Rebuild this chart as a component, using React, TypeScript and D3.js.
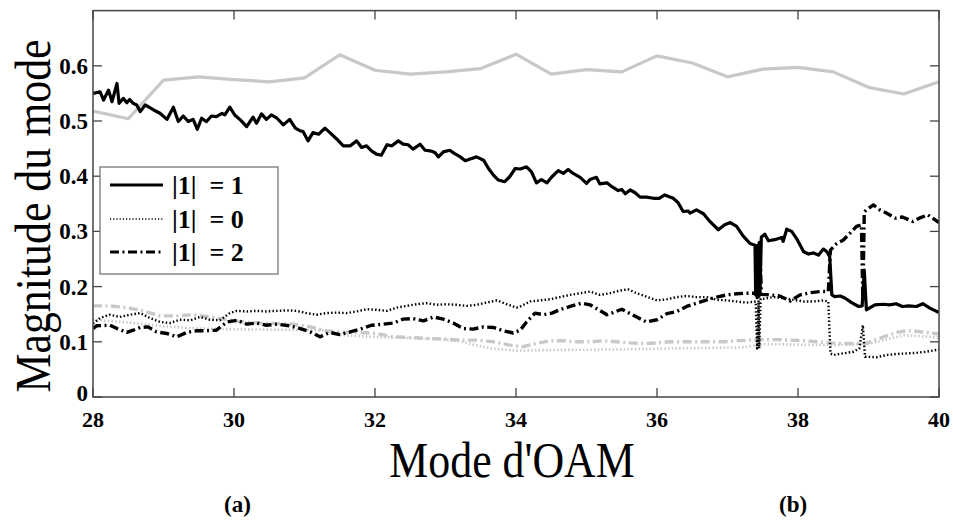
import React from "react";
import * as d3 from "d3";

type P = [number, number];

const xTicks = [28, 30, 32, 34, 36, 38, 40];
const yTicks = [0, 0.1, 0.2, 0.3, 0.4, 0.5, 0.6];
const legendLabels = ["|1|  = 1", "|1|  = 0", "|1|  = 2"];
const panelLabels = ["(a)", "(b)"];
const panelPos = [30.05, 37.93];

const graySolid: P[] = [
  [28, 0.518], [28.5, 0.504], [29, 0.574], [29.5, 0.58], [30, 0.575], [30.5, 0.571], [31, 0.578],
  [31.5, 0.62], [32, 0.592], [32.5, 0.585], [33, 0.589], [33.5, 0.595], [34, 0.621], [34.5, 0.585],
  [35, 0.593], [35.5, 0.589], [36, 0.618], [36.5, 0.605], [37, 0.58], [37.5, 0.594], [38, 0.597],
  [38.5, 0.589], [39, 0.561], [39.5, 0.549], [40, 0.571],
];

const grayDashDot: P[] = [
  [28.0, 0.165], [28.24, 0.165], [28.48, 0.162], [28.71, 0.156], [28.95, 0.147], [29.19, 0.147],
  [29.42, 0.149], [29.66, 0.145], [29.9, 0.14], [30.13, 0.136], [30.37, 0.134], [30.61, 0.133],
  [30.84, 0.132], [31.08, 0.127], [31.31, 0.12], [31.55, 0.117], [31.79, 0.117], [32.02, 0.115],
  [32.26, 0.109], [32.5, 0.108], [32.73, 0.106], [32.97, 0.105], [33.21, 0.103], [33.44, 0.103],
  [33.68, 0.1], [33.91, 0.094], [34.1, 0.091], [34.29, 0.097], [34.48, 0.102], [34.67, 0.102],
  [34.86, 0.1], [35.05, 0.1], [35.24, 0.102], [35.43, 0.1], [35.62, 0.098], [35.81, 0.097],
  [36.0, 0.098], [36.19, 0.1], [36.57, 0.1], [36.95, 0.1], [37.13, 0.102], [37.32, 0.103],
  [37.51, 0.104], [37.7, 0.104], [37.89, 0.103], [38.08, 0.102], [38.27, 0.1], [38.45, 0.098],
  [38.64, 0.097], [38.97, 0.097], [39.11, 0.104], [39.26, 0.111], [39.4, 0.117], [39.54, 0.12],
  [39.68, 0.119], [39.82, 0.117], [40.0, 0.114],
];

const grayDotted: P[] = [
  [28.0, 0.14], [28.5, 0.135], [29.0, 0.128], [29.5, 0.124], [29.87, 0.123], [30.5, 0.122],
  [31.27, 0.121], [31.55, 0.112], [31.97, 0.109], [32.69, 0.106], [33.16, 0.102], [33.63, 0.088],
  [34.01, 0.084], [34.38, 0.085], [35.33, 0.086], [36.28, 0.088], [37.23, 0.09], [37.51, 0.096],
  [37.94, 0.095], [38.5, 0.094], [39.0, 0.096], [39.5, 0.112], [40.0, 0.108],
];

const l1: P[] = [
  [28.0, 0.55], [28.1, 0.553], [28.15, 0.538], [28.22, 0.556], [28.27, 0.535], [28.34, 0.568],
  [28.37, 0.532], [28.43, 0.541], [28.48, 0.533], [28.52, 0.539], [28.57, 0.532], [28.62, 0.529],
  [28.67, 0.517], [28.74, 0.529], [28.86, 0.52], [28.95, 0.514], [29.05, 0.503], [29.14, 0.525],
  [29.21, 0.499], [29.28, 0.509], [29.35, 0.499], [29.42, 0.503], [29.48, 0.485], [29.54, 0.505],
  [29.61, 0.499], [29.68, 0.509], [29.75, 0.508], [29.83, 0.514], [29.87, 0.511], [29.94, 0.525],
  [30.01, 0.511], [30.09, 0.502], [30.18, 0.49], [30.27, 0.507], [30.32, 0.496], [30.39, 0.513],
  [30.46, 0.503], [30.53, 0.511], [30.61, 0.505], [30.7, 0.493], [30.79, 0.503], [30.87, 0.487],
  [30.94, 0.482], [30.98, 0.481], [31.05, 0.464], [31.12, 0.479], [31.2, 0.476], [31.29, 0.487],
  [31.36, 0.479], [31.46, 0.467], [31.55, 0.455], [31.65, 0.455], [31.74, 0.464], [31.81, 0.452],
  [31.88, 0.455], [31.95, 0.446], [32.02, 0.44], [32.09, 0.438], [32.17, 0.457], [32.24, 0.455],
  [32.33, 0.464], [32.4, 0.458], [32.47, 0.457], [32.54, 0.449], [32.64, 0.458], [32.71, 0.447],
  [32.78, 0.446], [32.85, 0.443], [32.9, 0.435], [32.97, 0.444], [33.06, 0.447], [33.13, 0.441],
  [33.21, 0.435], [33.28, 0.428], [33.35, 0.431], [33.44, 0.435], [33.54, 0.429], [33.61, 0.414],
  [33.68, 0.402], [33.75, 0.393], [33.84, 0.39], [33.91, 0.399], [33.99, 0.414], [34.06, 0.413],
  [34.15, 0.417], [34.22, 0.408], [34.29, 0.388], [34.36, 0.394], [34.44, 0.388], [34.51, 0.399],
  [34.6, 0.41], [34.67, 0.405], [34.74, 0.412], [34.81, 0.405], [34.91, 0.398], [35.0, 0.387],
  [35.05, 0.394], [35.14, 0.398], [35.19, 0.386], [35.29, 0.388], [35.36, 0.381], [35.45, 0.374],
  [35.5, 0.376], [35.55, 0.368], [35.62, 0.375], [35.69, 0.37], [35.76, 0.362], [35.85, 0.362],
  [35.95, 0.36], [36.03, 0.36], [36.11, 0.366], [36.23, 0.36], [36.3, 0.352], [36.37, 0.336],
  [36.44, 0.337], [36.47, 0.333], [36.56, 0.339], [36.66, 0.332], [36.75, 0.318], [36.87, 0.303],
  [36.96, 0.312], [37.04, 0.316], [37.13, 0.309], [37.22, 0.292], [37.32, 0.278], [37.39, 0.275],
  [37.4, 0.185], [37.41, 0.272], [37.42, 0.18], [37.43, 0.275], [37.44, 0.182], [37.45, 0.28],
  [37.46, 0.185], [37.48, 0.29],
  [37.53, 0.295], [37.58, 0.283], [37.67, 0.285], [37.77, 0.289], [37.79, 0.282], [37.84, 0.304],
  [37.91, 0.3], [37.98, 0.287], [38.08, 0.263], [38.15, 0.259], [38.22, 0.261], [38.29, 0.257],
  [38.36, 0.268], [38.41, 0.263], [38.45, 0.254], [38.48, 0.185], [38.52, 0.182], [38.6, 0.183],
  [38.67, 0.179], [38.76, 0.171], [38.86, 0.164], [38.91, 0.165], [38.94, 0.23], [38.97, 0.158],
  [39.09, 0.167], [39.21, 0.168], [39.3, 0.167], [39.39, 0.169], [39.48, 0.164], [39.57, 0.165],
  [39.68, 0.164], [39.77, 0.169], [39.87, 0.161], [40.0, 0.153],
];

const l0: P[] = [
  [28.0, 0.133], [28.1, 0.143], [28.24, 0.149], [28.38, 0.145], [28.52, 0.149], [28.67, 0.152],
  [28.81, 0.143], [28.95, 0.136], [29.09, 0.134], [29.23, 0.14], [29.38, 0.139], [29.52, 0.145],
  [29.66, 0.14], [29.8, 0.139], [29.94, 0.152], [30.04, 0.156], [30.18, 0.155], [30.32, 0.156],
  [30.46, 0.155], [30.61, 0.156], [30.75, 0.157], [30.89, 0.156], [31.03, 0.152], [31.17, 0.149],
  [31.31, 0.152], [31.46, 0.153], [31.6, 0.152], [31.74, 0.155], [31.88, 0.159], [32.02, 0.158],
  [32.17, 0.156], [32.31, 0.162], [32.45, 0.165], [32.59, 0.168], [32.73, 0.17], [32.87, 0.167],
  [33.02, 0.168], [33.16, 0.167], [33.3, 0.165], [33.44, 0.167], [33.58, 0.171], [33.73, 0.175],
  [33.87, 0.168], [34.01, 0.162], [34.06, 0.164], [34.2, 0.173], [34.34, 0.175], [34.48, 0.177],
  [34.62, 0.181], [34.77, 0.185], [34.91, 0.188], [35.05, 0.191], [35.19, 0.185], [35.33, 0.188],
  [35.48, 0.193], [35.59, 0.195], [35.71, 0.188], [35.85, 0.182], [36.0, 0.175], [36.14, 0.177],
  [36.28, 0.181], [36.42, 0.183], [36.56, 0.181], [36.71, 0.181], [36.85, 0.176], [36.99, 0.175],
  [37.13, 0.173], [37.27, 0.171], [37.4, 0.173], [37.42, 0.085], [37.44, 0.175], [37.45, 0.088],
  [37.47, 0.178], [37.51, 0.178], [37.65, 0.181], [37.79, 0.179], [37.94, 0.176], [38.08, 0.173],
  [38.22, 0.173], [38.36, 0.175], [38.43, 0.173], [38.46, 0.079], [38.5, 0.076], [38.64, 0.079],
  [38.79, 0.082], [38.87, 0.088], [38.92, 0.13], [38.95, 0.073], [39.11, 0.072], [39.26, 0.076],
  [39.4, 0.078], [39.54, 0.079], [39.68, 0.08], [39.82, 0.082], [40.0, 0.086],
];

const l2: P[] = [
  [28.0, 0.124], [28.05, 0.129], [28.24, 0.13], [28.34, 0.124], [28.48, 0.117], [28.57, 0.121],
  [28.67, 0.126], [28.78, 0.127], [28.9, 0.118], [29.05, 0.115], [29.19, 0.109], [29.33, 0.117],
  [29.47, 0.12], [29.61, 0.12], [29.75, 0.121], [29.9, 0.136], [30.04, 0.139], [30.18, 0.132],
  [30.32, 0.134], [30.46, 0.13], [30.61, 0.132], [30.79, 0.129], [30.94, 0.124], [31.08, 0.118],
  [31.22, 0.109], [31.36, 0.117], [31.5, 0.113], [31.65, 0.118], [31.79, 0.123], [31.95, 0.13],
  [32.12, 0.132], [32.26, 0.134], [32.4, 0.141], [32.54, 0.142], [32.69, 0.138], [32.83, 0.145],
  [32.97, 0.141], [33.11, 0.134], [33.25, 0.124], [33.39, 0.123], [33.54, 0.127], [33.68, 0.126],
  [33.82, 0.12], [33.96, 0.116], [34.06, 0.121], [34.15, 0.136], [34.27, 0.152], [34.39, 0.149],
  [34.51, 0.152], [34.62, 0.158], [34.77, 0.164], [34.93, 0.17], [35.05, 0.167], [35.17, 0.158],
  [35.29, 0.149], [35.38, 0.153], [35.5, 0.159], [35.62, 0.151], [35.74, 0.143], [35.85, 0.136],
  [36.0, 0.14], [36.14, 0.151], [36.28, 0.155], [36.42, 0.164], [36.56, 0.17], [36.71, 0.176],
  [36.85, 0.181], [36.99, 0.185], [37.13, 0.187], [37.27, 0.188], [37.4, 0.188], [37.42, 0.27],
  [37.44, 0.19], [37.46, 0.268], [37.48, 0.186], [37.6, 0.185], [37.74, 0.183], [37.89, 0.174],
  [38.03, 0.185], [38.17, 0.189], [38.31, 0.191], [38.43, 0.191], [38.46, 0.266], [38.55, 0.278],
  [38.64, 0.284], [38.74, 0.297], [38.83, 0.309], [38.9, 0.312], [38.92, 0.175], [38.94, 0.335],
  [38.97, 0.339], [39.07, 0.348], [39.16, 0.339], [39.26, 0.333], [39.38, 0.324], [39.48, 0.326],
  [39.63, 0.318], [39.72, 0.324], [39.84, 0.33], [40.0, 0.316],
];

const W = 953;
const H = 520;
const LEFT = 93;
const RIGHT = 939;
const TOP = 10.6;
const BOTTOM = 397;
const SERIF = "'Liberation Serif', 'Times New Roman', serif";

const DOT = "1.5,2.2";
const DASHDOT = "9,3.5,2,3.5";

export default function App() {
  const x = d3.scaleLinear().domain([28, 40]).range([LEFT, RIGHT]);
  const y = d3.scaleLinear().domain([0, 0.7]).range([BOTTOM, TOP]);
  const line = d3
    .line<P>()
    .x((d) => x(d[0]))
    .y((d) => y(d[1]));

  const series = [
    { data: graySolid, color: "#c8c8c8", width: 3.2, dash: undefined as string | undefined },
    { data: grayDotted, color: "#c8c8c8", width: 2.6, dash: DOT },
    { data: grayDashDot, color: "#c8c8c8", width: 3.4, dash: DASHDOT },
    { data: l0, color: "#000", width: 2.4, dash: DOT },
    { data: l2, color: "#000", width: 3.4, dash: DASHDOT },
    { data: l1, color: "#000", width: 3.2, dash: undefined },
  ];

  const legend = [
    { label: legendLabels[0], width: 3.2, dash: undefined as string | undefined },
    { label: legendLabels[1], width: 1.6, dash: "1.2,2" },
    { label: legendLabels[2], width: 3.2, dash: DASHDOT },
  ];
  const legendY = [185, 219, 252];
  const tickLen = 9;
  const frame = "#444";

  return (
    <svg
      width={W}
      height={H}
      viewBox={`0 0 ${W} ${H}`}
      style={{ position: "absolute", left: 0, top: 0, background: "#fff" }}
    >
      <rect x={0} y={0} width={W} height={H} fill="#fff" />
      <defs>
        <clipPath id="plotClip">
          <rect x={LEFT} y={TOP} width={RIGHT - LEFT} height={BOTTOM - TOP} />
        </clipPath>
      </defs>
      <g clipPath="url(#plotClip)">
        {series.map((s, i) => (
          <path
            key={i}
            d={line(s.data) || ""}
            fill="none"
            stroke={s.color}
            strokeWidth={s.width}
            strokeDasharray={s.dash}
            strokeLinejoin="round"
          />
        ))}
      </g>
      <rect
        x={LEFT}
        y={TOP}
        width={RIGHT - LEFT}
        height={BOTTOM - TOP}
        fill="none"
        stroke={frame}
        strokeWidth={1.5}
      />
      {xTicks.map((t) => (
        <g key={"xt" + t}>
          <line x1={x(t)} x2={x(t)} y1={BOTTOM} y2={BOTTOM - tickLen} stroke={frame} strokeWidth={1.3} />
          <line x1={x(t)} x2={x(t)} y1={TOP} y2={TOP + tickLen} stroke={frame} strokeWidth={1.3} />
          <text
            x={x(t)}
            y={427}
            textAnchor="middle"
            fontFamily={SERIF}
            fontWeight="bold"
            fontSize={22}
            fill="#000"
          >
            {t}
          </text>
        </g>
      ))}
      {yTicks.map((t) => (
        <g key={"yt" + t}>
          <line x1={LEFT} x2={LEFT + tickLen} y1={y(t)} y2={y(t)} stroke={frame} strokeWidth={1.3} />
          <line x1={RIGHT} x2={RIGHT - tickLen} y1={y(t)} y2={y(t)} stroke={frame} strokeWidth={1.3} />
          <text
            x={88}
            y={y(t) + (t === 0 ? 4 : 8)}
            textAnchor="end"
            fontFamily={SERIF}
            fontWeight="bold"
            fontSize={23}
            fill="#000"
          >
            {t === 0 ? "0" : t.toFixed(1)}
          </text>
        </g>
      ))}
      <rect x={100} y={167} width={178} height={107} fill="#fff" stroke="#777" strokeWidth={1.3} />
      {legend.map((l, i) => (
        <g key={"lg" + i}>
          <line
            x1={110}
            x2={163}
            y1={legendY[i]}
            y2={legendY[i]}
            stroke="#000"
            strokeWidth={l.width}
            strokeDasharray={l.dash}
          />
          <text
            x={172}
            y={legendY[i] + 9}
            fontFamily={SERIF}
            fontWeight="bold"
            fontSize={26}
            style={{ whiteSpace: "pre" }}
            fill="#000"
          >
            {l.label}
          </text>
        </g>
      ))}
      <text
        transform={`translate(${(LEFT + RIGHT) / 2 - 4},477) scale(0.877,1)`}
        textAnchor="middle"
        fontFamily={SERIF}
        fontSize={50}
        fill="#000"
      >
        Mode d'OAM
      </text>
      <text
        transform={`translate(50,216) rotate(-90) scale(0.86,1)`}
        textAnchor="middle"
        fontFamily={SERIF}
        fontSize={51}
        fill="#000"
      >
        Magnitude du mode
      </text>
      {panelLabels.map((p, i) => (
        <text
          key={p}
          x={x(panelPos[i])}
          y={512}
          textAnchor="middle"
          fontFamily={SERIF}
          fontWeight="bold"
          fontSize={23}
          fill="#000"
        >
          {p}
        </text>
      ))}
    </svg>
  );
}
